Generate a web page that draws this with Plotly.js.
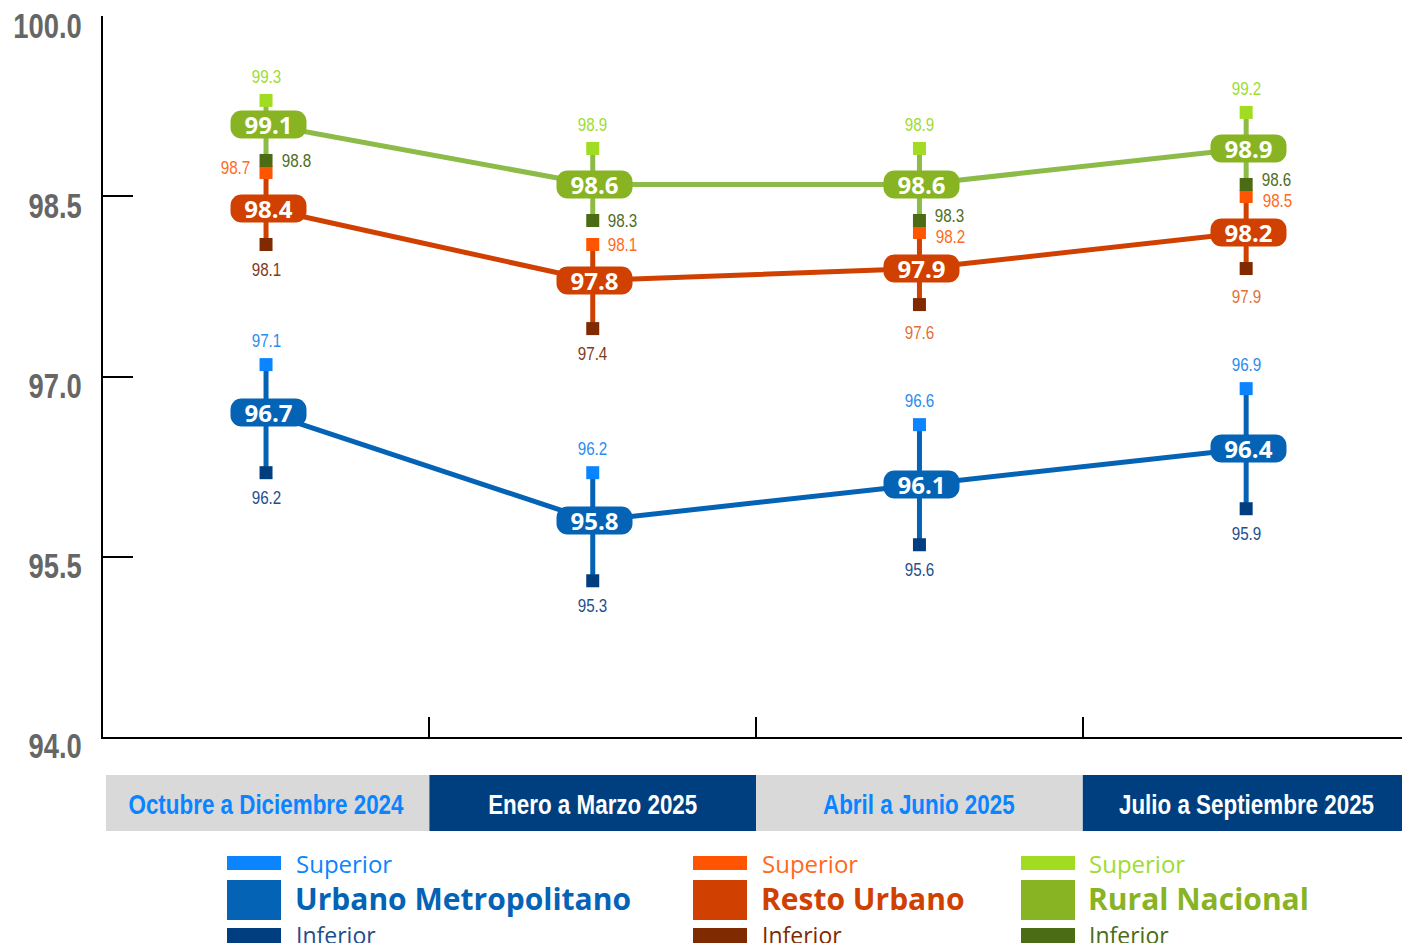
<!DOCTYPE html>
<html>
<head>
<meta charset="utf-8">
<script src="https://cdn.plot.ly/plotly-3.0.1.min.js"></script>
<style>
  html, body { margin: 0; padding: 0; background: #ffffff; }
  #chart { width: 1402px; height: 943px; }
</style>
</head>
<body>
<div id="chart"></div>
<script>
// ---------------- DATA ----------------
const categories = ['Octubre a Diciembre 2024', 'Enero a Marzo 2025', 'Abril a Junio 2025', 'Julio a Septiembre 2025'];

const urbanoValor    = [96.7, 95.8, 96.1, 96.4];
const urbanoSuperior = [97.1, 96.2, 96.6, 96.9];
const urbanoInferior = [96.2, 95.3, 95.6, 95.9];

const restoValor    = [98.4, 97.8, 97.9, 98.2];
const restoSuperior = [98.7, 98.1, 98.2, 98.5];
const restoInferior = [98.1, 97.4, 97.6, 97.9];

const ruralValor    = [99.1, 98.6, 98.6, 98.9];
const ruralSuperior = [99.3, 98.9, 98.9, 99.2];
const ruralInferior = [98.8, 98.3, 98.3, 98.6];

const seriesNames = ['Urbano Metropolitano', 'Resto Urbano', 'Rural Nacional'];
const yTickVals = [94.0, 95.5, 97.0, 98.5, 100.0];
const yTickText = ['94.0', '95.5', '97.0', '98.5', '100.0'];
const legendSuperior = 'Superior';
const legendInferior = 'Inferior';

// ---------------- STYLE ----------------
const NARROW = "'Liberation Sans', Arial, sans-serif";   // condensed afterwards horizontally
const SANS = "'Open Sans', 'Noto Sans', sans-serif";

const styles = [
  { main: '#0563b5', line: '#0563b5', sup: '#0a84ff', inf: '#003e80',
    supLabel: ['#2a8cf0', '#2a8cf0', '#2a8cf0', '#2a8cf0'], infLabel: ['#1f4e8c', '#1f4e8c', '#1f4e8c', '#1f4e8c'],
    supPos: ['top', 'top', 'top', 'top'], infPos: ['bottom', 'bottom', 'bottom', 'bottom'],
    legSup: '#0a84ff', legMain: '#0563b5', legInf: '#1f4e8c', legX: 227, legTextX: 296 },
  { main: '#d04000', line: '#d04000', sup: '#ff5500', inf: '#7f2a00',
    supLabel: ['#ff6a20', '#ff6a20', '#ff6a20', '#ff6a20'], infLabel: ['#7f3a1a', '#7f3a1a', '#e0703a', '#e0703a'],
    supPos: ['left', 'right', 'rightDown', 'rightDown'], infPos: ['bottom', 'bottom', 'bottomFar', 'bottomFar'],
    legSup: '#ff6a20', legMain: '#d04000', legInf: '#7f2a00', legX: 693, legTextX: 762 },
  { main: '#88b322', line: '#8cbb48', sup: '#a2dc22', inf: '#4b6b15',
    supLabel: ['#9edc30', '#9edc30', '#9edc30', '#9edc30'], infLabel: ['#4e6e1e', '#4e6e1e', '#4e6e1e', '#4e6e1e'],
    supPos: ['top', 'top', 'top', 'top'], infPos: ['right', 'right', 'rightUp', 'rightUp'],
    legSup: '#9edc30', legMain: '#88b322', legInf: '#4b6b15', legX: 1021, legTextX: 1089 }
];

const posShift = {
  top:       { xshift: 0,   yshift: 24 },
  bottom:    { xshift: 0,   yshift: -25 },
  bottomFar: { xshift: 0,   yshift: -28 },
  left:      { xshift: -31, yshift: 5 },
  right:     { xshift: 30,  yshift: 0 },
  rightUp:   { xshift: 30,  yshift: 5 },
  rightDown: { xshift: 31,  yshift: -4 }
};

// layout helpers (pixel -> paper)
const L = 103, R = 1402, T = 16, B = 737;
const px = v => (v - L) / (R - L);
const py = v => (B - v) / (B - T);

const allSeries = [
  { v: urbanoValor, s: urbanoSuperior, i: urbanoInferior },
  { v: restoValor,  s: restoSuperior,  i: restoInferior },
  { v: ruralValor,  s: ruralSuperior,  i: ruralInferior }
];

const xIdx = categories.map((c, k) => k);
const traces = [];
const annotations = [];
const shapes = [];
const condense = {};   // annotation index -> horizontal scale

allSeries.forEach((ser, n) => {
  const st = styles[n];
  traces.push({
    type: 'scatter', mode: 'lines', x: xIdx, y: ser.v, name: seriesNames[n],
    line: { color: st.line, width: 5 },
    error_y: { type: 'data', symmetric: false,
      array: ser.s.map((s, k) => s - ser.v[k]),
      arrayminus: ser.v.map((v, k) => v - ser.i[k]),
      thickness: 5, width: 0, color: st.line },
    hoverinfo: 'skip', showlegend: false
  });
  traces.push({
    type: 'scatter', mode: 'markers', x: xIdx, y: ser.s,
    marker: { symbol: 'square', size: 13, color: st.sup, line: { width: 0 } },
    hoverinfo: 'skip', showlegend: false
  });
  traces.push({
    type: 'scatter', mode: 'markers', x: xIdx, y: ser.i,
    marker: { symbol: 'square', size: 13, color: st.inf, line: { width: 0 } },
    hoverinfo: 'skip', showlegend: false
  });
});

// bound labels
allSeries.forEach((ser, n) => {
  const st = styles[n];
  xIdx.forEach(k => {
    const ps = posShift[st.supPos[k]];
    condense[annotations.length] = 0.8;
    annotations.push({ x: k, y: ser.s[k], xref: 'x', yref: 'y', text: ser.s[k].toFixed(1), showarrow: false,
      xanchor: 'center', yanchor: 'middle',
      xshift: ps.xshift, yshift: ps.yshift, font: { family: NARROW, size: 19, color: st.supLabel[k] } });
    const pi = posShift[st.infPos[k]];
    condense[annotations.length] = 0.8;
    annotations.push({ x: k, y: ser.i[k], xref: 'x', yref: 'y', text: ser.i[k].toFixed(1), showarrow: false,
      xanchor: 'center', yanchor: 'middle',
      xshift: pi.xshift, yshift: pi.yshift, font: { family: NARROW, size: 19, color: st.infLabel[k] } });
  });
});

// value pills
allSeries.forEach((ser, n) => {
  const st = styles[n];
  xIdx.forEach(k => {
    annotations.push({ x: k, y: ser.v[k], xref: 'x', yref: 'y', text: '<b>' + ser.v[k].toFixed(1) + '</b>',
      showarrow: false, xanchor: 'center', yanchor: 'middle',
      bgcolor: st.main, width: 75, height: 27, borderpad: 0, xshift: 2,
      font: { family: SANS, size: 24, color: '#ffffff' } });
  });
});

// category band
categories.forEach((c, k) => {
  const dark = k % 2 === 1;
  shapes.push({ type: 'rect', xref: 'x', yref: 'paper', x0: k - 0.5 + (k === 0 ? 0.01 : 0), x1: k + 0.5,
    y0: py(831), y1: py(775), fillcolor: dark ? '#003f7f' : '#d9d9d9', line: { width: 0 }, layer: 'above' });
  condense[annotations.length] = 0.8;
  annotations.push({ x: k, y: py(804), xref: 'x', yref: 'paper', xanchor: 'center', yanchor: 'middle',
    text: '<b>' + c + '</b>', showarrow: false,
    font: { family: NARROW, size: 28, color: dark ? '#ffffff' : '#0a84ff' } });
});

// custom legend
styles.forEach((st, n) => {
  const x0 = px(st.legX), x1 = px(st.legX + 54);
  shapes.push({ type: 'rect', xref: 'paper', yref: 'paper', x0, x1, y0: py(870), y1: py(856), fillcolor: st.sup, line: { width: 0 } });
  shapes.push({ type: 'rect', xref: 'paper', yref: 'paper', x0, x1, y0: py(920), y1: py(880), fillcolor: st.main, line: { width: 0 } });
  shapes.push({ type: 'rect', xref: 'paper', yref: 'paper', x0, x1, y0: py(952), y1: py(928), fillcolor: st.inf, line: { width: 0 } });
  annotations.push({ x: px(st.legTextX - 2), y: py(863), xref: 'paper', yref: 'paper', xanchor: 'left', yanchor: 'middle',
    text: legendSuperior, showarrow: false, font: { family: SANS, size: 24, color: st.legSup } });
  annotations.push({ x: px(st.legTextX - 3), y: py(899), xref: 'paper', yref: 'paper', xanchor: 'left', yanchor: 'middle',
    text: '<b>' + seriesNames[n] + '</b>', showarrow: false, font: { family: SANS, size: 30, color: st.legMain } });
  annotations.push({ x: px(st.legTextX - 2), y: py(935), xref: 'paper', yref: 'paper', xanchor: 'left', yanchor: 'middle',
    text: legendInferior, showarrow: false, font: { family: SANS, size: 23, color: st.legInf } });
});

const layout = {
  width: 1402, height: 943,
  margin: { l: L, r: 1402 - R, t: T, b: 943 - B, pad: 0 },
  paper_bgcolor: '#ffffff', plot_bgcolor: '#ffffff',
  showlegend: false,
  xaxis: {
    range: [-0.499, 3.477], showline: true, linecolor: '#000000', linewidth: 2,
    tickmode: 'array', tickvals: [0.5, 1.5, 2.5], ticks: 'inside', ticklen: 20, tickwidth: 2, tickcolor: '#000000',
    showticklabels: false, showgrid: false, zeroline: false, fixedrange: true
  },
  yaxis: {
    range: [93.999, 100.003], showline: true, linecolor: '#000000', linewidth: 2,
    tickmode: 'array', tickvals: yTickVals, ticktext: yTickText,
    ticks: 'inside', ticklen: 30, tickwidth: 2, tickcolor: '#000000',
    ticklabelstandoff: 12, ticklabelshift: 9,
    tickfont: { family: NARROW, size: 36, color: '#666666', weight: 'bold' },
    showgrid: false, zeroline: false, fixedrange: true
  },
  shapes, annotations,
  hovermode: false
};

function squeeze(el, s, anchor) {
  const bb = el.getBBox();
  const cx = anchor === 'end' ? bb.x + bb.width : bb.x + bb.width / 2;
  const prev = el.getAttribute('transform') || '';
  el.setAttribute('transform', prev + ' translate(' + cx + ',0) scale(' + s + ',1) translate(' + (-cx) + ',0)');
}

Plotly.newPlot('chart', traces, layout, { displayModeBar: false, staticPlot: true }).then(() => {
  document.querySelectorAll('.annotation rect.bg').forEach(r => {
    r.setAttribute('rx', 11); r.setAttribute('ry', 11);
  });
  document.querySelectorAll('g.annotation').forEach(g => {
    const idx = +g.getAttribute('data-index');
    if (condense[idx]) {
      const t = g.querySelector('text.annotation-text');
      if (t) squeeze(t, condense[idx], 'middle');
    }
  });
  document.querySelectorAll('g.ytick text').forEach(t => squeeze(t, 0.76, 'end'));
});
</script>
</body>
</html>
